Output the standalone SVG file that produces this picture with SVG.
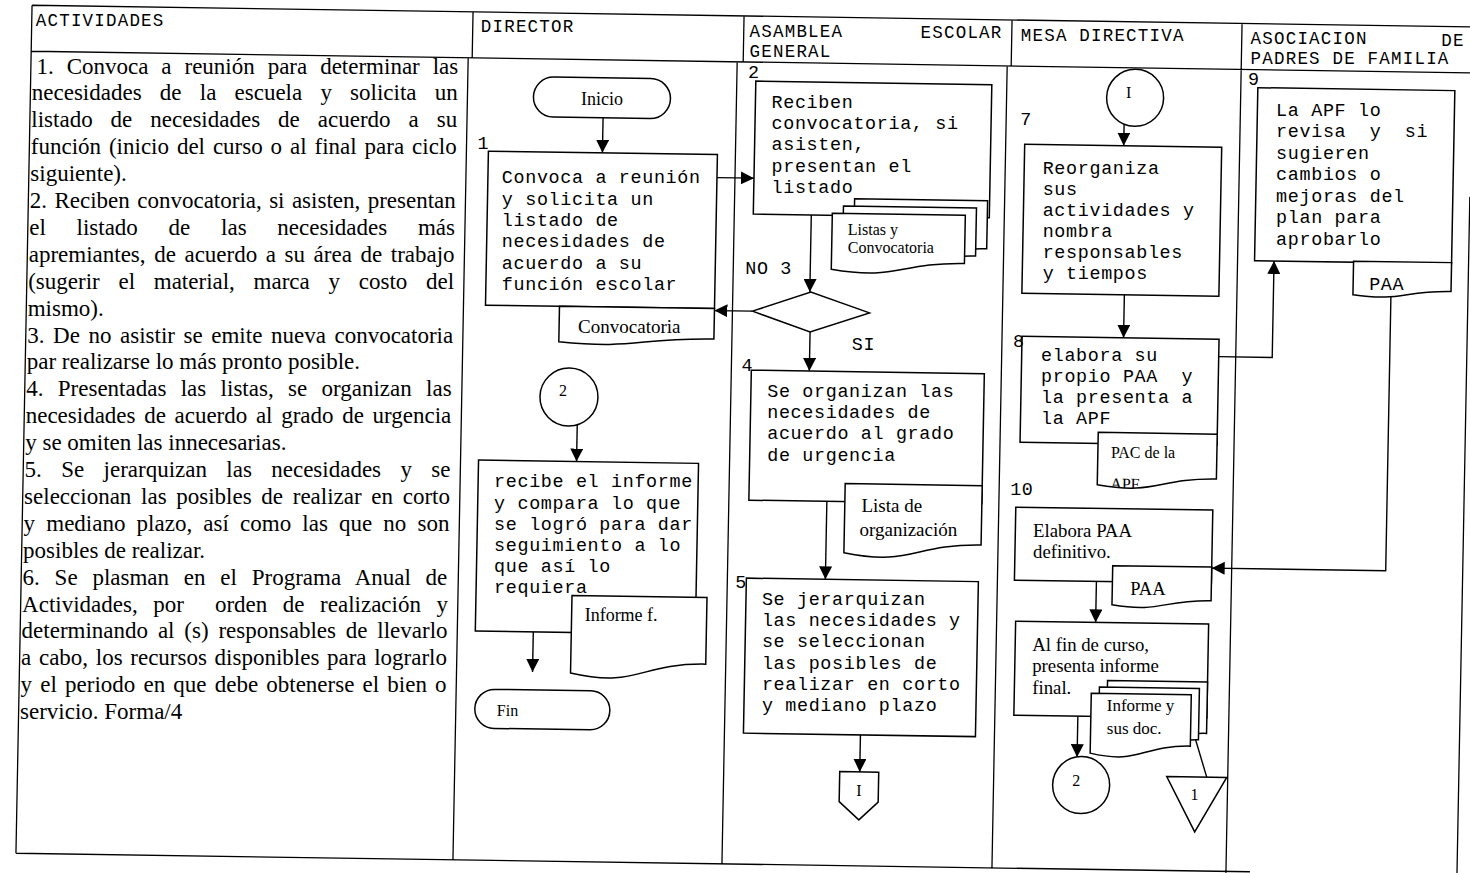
<svg xmlns="http://www.w3.org/2000/svg" width="1470" height="873" viewBox="0 0 1470 873">
<defs>
<style>
.tl{stroke:#000;stroke-width:1.3;fill:none}
.bx{fill:#fff;stroke:#000;stroke-width:1.5}
.cn{fill:none;stroke:#000;stroke-width:1.4}
.mono{font-family:"Liberation Mono","DejaVu Sans Mono",monospace;font-size:18.4px;letter-spacing:0.66px;fill:#000}
.hd{font-family:"Liberation Mono","DejaVu Sans Mono",monospace;font-size:17.5px;letter-spacing:1.2px;fill:#000}
.serif{font-family:"Liberation Serif","Times New Roman",serif;fill:#000}
.body{font-size:23px}
</style>
<marker id="ah" markerWidth="13" markerHeight="13" refX="13" refY="6.5" orient="auto" markerUnits="userSpaceOnUse"><path d="M0,0 L13,6.5 L0,13 Z" fill="#000"/></marker>
<marker id="ah2" markerWidth="8" markerHeight="8" refX="7" refY="4" orient="auto" markerUnits="userSpaceOnUse"><path d="M0,0 L7,4 L0,8" fill="none" stroke="#000" stroke-width="1"/></marker>
<clipPath id="clipPAC"><path d="M1098,427 H1217 V471.9 C1157.5,471.9 1157.5,489 1098,479.3 Z"/></clipPath>
</defs>
<rect x="0" y="0" width="1470" height="873" fill="#fff"/>

<g id="table">
<path class="tl" transform="matrix(1 0.015 -0.019 1 8.36 -11.1)" d="M24,16 H1480 M24,62 H1480 M24,16 V864 M24,864 H1258 M465,16 V62 M461,62 V864 M736,16 V62 M730,62 V864 M1004,16 V62 M1000,62 V864 M1234,16 V882 M1465,186 V882"/>
<text class="hd" x="28" y="35.6" transform="translate(7.79 -9.72)">ACTIVIDADES</text>
<text class="hd" x="473" y="35.6" transform="translate(7.79 -3.3)">DIRECTOR</text>
<text class="hd" transform="translate(7.6 1.4)"><tspan x="742" y="35.5">ASAMBLEA</tspan><tspan x="913" y="36.5">ESCOLAR</tspan><tspan x="742" y="55.5">GENERAL</tspan></text>
<text class="hd" x="1013" y="36" transform="translate(7.79 5.3)">MESA DIRECTIVA</text>
<text class="hd" transform="translate(7.6 8.6)"><tspan x="1243" y="35.5">ASOCIACION</tspan><tspan x="1433.6" y="37">DE</tspan><tspan x="1243" y="55.5">PADRES DE FAMILIA</tspan></text>
</g>

<g id="actividades">
<text class="serif body">
<tspan x="36.5" y="73.5" word-spacing="7.17">1. Convoca a reunión para determinar las</tspan>
<tspan x="31.8" y="100.4" word-spacing="12.45">necesidades de la escuela y solicita un</tspan>
<tspan x="31.3" y="127.3" word-spacing="12.23">listado de necesidades de acuerdo a su</tspan>
<tspan x="30.8" y="154.2" word-spacing="2.15">función (inicio del curso o al final para ciclo</tspan>
<tspan x="30.3" y="181.1">siguiente).</tspan>
<tspan x="29.8" y="208" word-spacing="1.66">2. Reciben convocatoria, si asisten, presentan</tspan>
<tspan x="29.2" y="234.9" word-spacing="25">el listado de las necesidades más</tspan>
<tspan x="28.7" y="261.8" word-spacing="2.83">apremiantes, de acuerdo a su área de trabajo</tspan>
<tspan x="28.2" y="288.7" word-spacing="12.98">(sugerir el material, marca y costo del</tspan>
<tspan x="27.7" y="315.6">mismo).</tspan>
<tspan x="27.2" y="342.5" word-spacing="2.83">3. De no asistir se emite nueva convocatoria</tspan>
<tspan x="26.7" y="369.4">par realizarse lo más pronto posible.</tspan>
<tspan x="26.2" y="396.3" word-spacing="8.6">4. Presentadas las listas, se organizan las</tspan>
<tspan x="25.7" y="423.2" word-spacing="2.88">necesidades de acuerdo al grado de urgencia</tspan>
<tspan x="25.2" y="450.1">y se omiten las innecesarias.</tspan>
<tspan x="24.6" y="477" word-spacing="13.6">5. Se jerarquizan las necesidades y se</tspan>
<tspan x="24.1" y="503.9" word-spacing="3.93">seleccionan las posibles de realizar en corto</tspan>
<tspan x="23.6" y="530.8" word-spacing="5.41">y mediano plazo, así como las que no son</tspan>
<tspan x="23.1" y="557.7">posibles de realizar.</tspan>
<tspan x="22.6" y="584.6" word-spacing="9.03">6. Se plasman en el Programa Anual de</tspan>
<tspan x="22.1" y="611.5" word-spacing="9.78">Actividades, por&#160; orden de realización y</tspan>
<tspan x="21.6" y="638.4" word-spacing="4.08">determinando al (s) responsables de llevarlo</tspan>
<tspan x="21.1" y="665.3" word-spacing="1.9">a cabo, los recursos disponibles para lograrlo</tspan>
<tspan x="20.6" y="692.2" word-spacing="2.41">y el periodo en que debe obtenerse el bien o</tspan>
<tspan x="20" y="719.1">servicio. Forma/4</tspan>
</text>
</g>

<g id="connectors" transform="matrix(1 0.015 -0.019 1 8.36 -11.1)">
<path class="cn" d="M597,120 V155" marker-end="url(#ah)"/>
<path class="cn" d="M712,178 H749" marker-end="url(#ah)"/>
<path class="cn" d="M807,214 V291" marker-end="url(#ah)"/>
<path class="cn" d="M750,311 H712" marker-end="url(#ah)"/>
<path class="cn" d="M808,331 V370" marker-end="url(#ah)"/>
<path class="cn" d="M828,500 V578" marker-end="url(#ah)"/>
<path class="cn" d="M866,733 V770" marker-end="url(#ah)"/>
<path class="cn" d="M1118,118.5 V140" marker-end="url(#ah)"/>
<path class="cn" d="M1121.5,289 V332" marker-end="url(#ah)"/>
<path class="cn" d="M1217,349.5 H1270.5 V253" marker-end="url(#ah)"/>
<path class="cn" d="M1388,287 V561 H1214" marker-end="url(#ah)"/>
<path class="cn" d="M1099,576 V617" marker-end="url(#ah)"/>
<path class="cn" d="M1083,711 V752" marker-end="url(#ah)"/>
<path class="cn" d="M577,427 V464" marker-end="url(#ah)"/>
<path class="cn" d="M537,635 V675" marker-end="url(#ah)"/>
<path class="cn" d="M1213,770 L1194.5,712" marker-end="url(#ah2)"/>
</g>

<g id="inicio">
<rect class="bx" transform="matrix(1 0.015 -0.019 1 8.36 -11.1)" x="527" y="80" width="137" height="40" rx="20"/>
<text class="serif" x="595.5" y="107" font-size="18" text-anchor="middle" transform="translate(6.46 -2.16)">Inicio</text>
</g>

<g id="paso1">
<g transform="matrix(1 0.015 -0.019 1 8.36 -11.1)">
<rect class="bx" x="483" y="155" width="229" height="154"/>
<path class="bx" d="M557,309 H712 V339.5 C634.5,339.5 634.5,351.1 557,344.5 Z"/>
</g>
<text class="mono" x="472" y="153" transform="translate(5.57 -3.96)">1</text>
<text class="mono" transform="translate(3.84 -2.15)"><tspan x="498" y="185.5">Convoca a reunión</tspan><tspan x="498" y="206.8">y solicita un</tspan><tspan x="498" y="228.1">listado de</tspan><tspan x="498" y="249.4">necesidades de</tspan><tspan x="498" y="270.7">acuerdo a su</tspan><tspan x="498" y="292">función escolar</tspan></text>
<text class="serif" x="576" y="335" font-size="19" transform="translate(2.09 -1.68)">Convocatoria</text>
</g>

<g id="conector2-director">
<circle class="bx" transform="matrix(1 0.015 -0.019 1 8.36 -11.1)" cx="568.2" cy="399.6" r="29"/>
<text class="serif" x="562" y="398.7" font-size="16" text-anchor="middle" transform="translate(0.89 -2.67)">2</text>
</g>

<g id="recibe-informe">
<g transform="matrix(1 0.015 -0.019 1 8.36 -11.1)">
<rect class="bx" x="479" y="464" width="220" height="171"/>
<path class="bx" d="M575,598 H710 V664.6 C642.5,664.6 642.5,689.9 575,675.5 Z"/>
</g>
<text class="mono" transform="translate(-1.96 -2.15)"><tspan x="496" y="489.5">recibe el informe</tspan><tspan x="496" y="510.7">y compara lo que</tspan><tspan x="496" y="531.9">se logró para dar</tspan><tspan x="496" y="553.1">seguimiento a lo</tspan><tspan x="496" y="574.3">que así lo</tspan><tspan x="496" y="595.5">requiera</tspan></text>
<text class="serif" x="588" y="623" font-size="18" transform="translate(-3.36 -1.73)">Informe f.</text>
</g>

<g id="fin">
<rect class="bx" transform="matrix(1 0.015 -0.019 1 8.36 -11.1)" x="480" y="693" width="135" height="39" rx="19.5"/>
<text class="serif" x="502" y="719.5" font-size="16" transform="translate(-5.2 -3.38)">Fin</text>
</g>

<g id="paso2">
<g transform="matrix(1 0.015 -0.019 1 8.36 -11.1)">
<rect class="bx" x="749" y="81" width="236" height="133"/>
<path class="bx" d="M850,197 H983 V245.1 C916.5,245.1 916.5,263.4 850,253 Z"/>
<path class="bx" d="M839,204.5 H972 V252.6 C905.5,252.6 905.5,270.9 839,260.5 Z"/>
<path class="bx" d="M828,212 H961 V260.1 C894.5,260.1 894.5,278.4 828,268 Z"/>
</g>
<text class="mono" x="741" y="78" transform="translate(7 0.1)">2</text>
<text class="mono" transform="translate(5.51 1.8)"><tspan x="766" y="106">Reciben</tspan><tspan x="766" y="127.3">convocatoria, si</tspan><tspan x="766" y="148.6">asisten,</tspan><tspan x="766" y="169.9">presentan el</tspan><tspan x="766" y="191.2">listado</tspan></text>
<text class="serif" font-size="16" transform="translate(3.76 2.25)"><tspan x="844" y="232.5">Listas y</tspan><tspan x="844" y="250.5">Convocatoria</tspan></text>
</g>

<g id="decision3">
<polygon class="bx" transform="matrix(1 0.015 -0.019 1 8.36 -11.1)" points="750,311 808,291 867,311 808,331"/>
<text class="mono" x="742" y="274" transform="translate(3.27 0.38)">NO 3</text>
<text class="mono" x="850" y="348.5" transform="translate(1.86 1.83)">SI</text>
</g>

<g id="paso4">
<g transform="matrix(1 0.015 -0.019 1 8.36 -11.1)">
<rect class="bx" x="750" y="370" width="233" height="130"/>
<path class="bx" d="M846,482 H983 V541.3 C914.5,541.3 914.5,563.9 846,551.1 Z"/>
</g>
<text class="mono" x="740" y="371" transform="translate(1.43 0.09)">4</text>
<text class="mono" transform="translate(0.23 1.8)"><tspan x="767" y="395">Se organizan las</tspan><tspan x="767" y="416.3">necesidades de</tspan><tspan x="767" y="437.6">acuerdo al grado</tspan><tspan x="767" y="458.9">de urgencia</tspan></text>
<text class="serif" font-size="19" transform="translate(-1.54 2.55)"><tspan x="863" y="509">Lista de</tspan><tspan x="861" y="533">organización</tspan></text>
</g>

<g id="paso5">
<rect class="bx" transform="matrix(1 0.015 -0.019 1 8.36 -11.1)" x="749" y="578" width="232" height="155"/>
<text class="mono" x="738" y="588" transform="translate(-2.7 0.06)">5</text>
<text class="mono" transform="translate(-4.12 1.8)"><tspan x="766" y="603">Se jerarquizan</tspan><tspan x="766" y="624.3">las necesidades y</tspan><tspan x="766" y="645.6">se seleccionan</tspan><tspan x="766" y="666.9">las posibles de</tspan><tspan x="766" y="688.2">realizar en corto</tspan><tspan x="766" y="709.5">y mediano plazo</tspan></text>
</g>

<g id="conector-pagina-I">
<polygon class="bx" transform="matrix(1 0.015 -0.019 1 8.36 -11.1)" points="846,770 885,770 885,800 866,818 846,800"/>
<text class="serif" x="865.5" y="794" font-size="16" text-anchor="middle" transform="translate(-6.63 1.88)">I</text>
</g>

<g id="conector-I-mesa">
<circle class="bx" transform="matrix(1 0.015 -0.019 1 8.36 -11.1)" cx="1128.5" cy="92" r="28.5"/>
<text class="serif" x="1122" y="92" font-size="16" text-anchor="middle" transform="translate(6.7 5.73)">I</text>
</g>

<g id="paso7">
<rect class="bx" transform="matrix(1 0.015 -0.019 1 8.36 -11.1)" x="1019" y="140" width="197" height="149"/>
<text class="mono" x="1014" y="121" transform="translate(6.18 4.2)">7</text>
<text class="mono" transform="translate(4.16 5.66)"><tspan x="1038.5" y="168.5">Reorganiza</tspan><tspan x="1038.5" y="189.5">sus</tspan><tspan x="1038.5" y="210.5">actividades y</tspan><tspan x="1038.5" y="231.5">nombra</tspan><tspan x="1038.5" y="252.5">responsables</tspan><tspan x="1038.5" y="273.5">y tiempos</tspan></text>
</g>

<g id="paso8">
<g transform="matrix(1 0.015 -0.019 1 8.36 -11.1)">
<rect class="bx" x="1020" y="332" width="197" height="106"/>
<path class="bx" d="M1098,427 H1217 V471.9 C1157.5,471.9 1157.5,489 1098,479.3 Z"/>
<text class="serif" x="1111" y="483.4" font-size="16" clip-path="url(#clipPAC)">APF</text>
</g>
<text class="mono" x="1011" y="343" transform="translate(1.96 4.16)">8</text>
<text class="mono" transform="translate(1.03 5.66)"><tspan x="1040" y="355">elabora su</tspan><tspan x="1040" y="376">propio PAA&#160; y</tspan><tspan x="1040" y="397">la presenta a</tspan><tspan x="1040" y="418">la APF</tspan></text>
<text class="serif" x="1111" y="451.5" font-size="16" transform="translate(-0.11 6.09)">PAC de la</text>
</g>

<g id="paso9">
<g transform="matrix(1 0.015 -0.019 1 8.36 -11.1)">
<rect class="bx" x="1251" y="80" width="197" height="173"/>
<path class="bx" d="M1350,252 H1448 V280.9 C1399,280.9 1399,291.9 1350,285.6 Z"/>
</g>
<text class="mono" x="1241" y="77.5" transform="translate(6.99 7.6)">9</text>
<text class="mono" transform="translate(5.11 9.15)"><tspan x="1271" y="106.5">La APF lo</tspan><tspan x="1271" y="128">revisa&#160; y&#160; si</tspan><tspan x="1271" y="149.5">sugieren</tspan><tspan x="1271" y="171">cambios o</tspan><tspan x="1271" y="192.5">mejoras del</tspan><tspan x="1271" y="214">plan para</tspan><tspan x="1271" y="235.5">aprobarlo</tspan></text>
<text class="mono" x="1366" y="280.5" transform="translate(3.14 9.65)">PAA</text>
</g>

<g id="paso10">
<g transform="matrix(1 0.015 -0.019 1 8.36 -11.1)">
<rect class="bx" x="1017" y="503" width="197" height="73"/>
<path class="bx" d="M1115,560 H1214 V593.7 C1164.5,593.7 1164.5,606.5 1115,599.2 Z"/>
</g>
<text class="mono" x="1011" y="491" transform="translate(-0.86 4.23)">10</text>
<text class="serif" font-size="18.8" transform="translate(-1.94 5.18)"><tspan x="1035" y="531.6">Elabora PAA</tspan><tspan x="1035" y="552.6">definitivo.</tspan></text>
<text class="serif" x="1133" y="589" font-size="18.5" transform="translate(-2.72 6.15)">PAA</text>
</g>

<g id="paso11">
<g transform="matrix(1 0.015 -0.019 1 8.36 -11.1)">
<rect class="bx" x="1019" y="617" width="193" height="94"/>
<path class="bx" d="M1112,675 H1212 V726.3 C1162,726.3 1162,745.8 1112,734.8 Z"/>
<path class="bx" d="M1104,681.5 H1204 V732.8 C1154,732.8 1154,752.3 1104,741.3 Z"/>
<path class="bx" d="M1096,688 H1196 V739.3 C1146,739.3 1146,758.8 1096,747.8 Z"/>
</g>
<text class="serif" font-size="18.8" transform="translate(-4.31 5.4)"><tspan x="1036.5" y="645.5">Al fin de curso,</tspan><tspan x="1036.5" y="667">presenta informe</tspan><tspan x="1036.5" y="689">final.</tspan></text>
<text class="serif" font-size="17" transform="translate(-5.24 6.08)"><tspan x="1112" y="704.5">Informe y</tspan><tspan x="1112" y="727.5">sus doc.</tspan></text>
</g>

<g id="conector2-mesa">
<circle class="bx" transform="matrix(1 0.015 -0.019 1 8.36 -11.1)" cx="1087.6" cy="779.9" r="28.5"/>
<text class="serif" x="1082.5" y="780.5" font-size="16" text-anchor="middle" transform="translate(-6.37 5.14)">2</text>
</g>

<g id="archivo-1">
<polygon class="bx" transform="matrix(1 0.015 -0.019 1 8.36 -11.1)" points="1173,770 1233,770 1202,825"/>
<text class="serif" x="1201" y="793" font-size="16" text-anchor="middle" transform="translate(-6.61 6.92)">1</text>
</g>

</svg>
